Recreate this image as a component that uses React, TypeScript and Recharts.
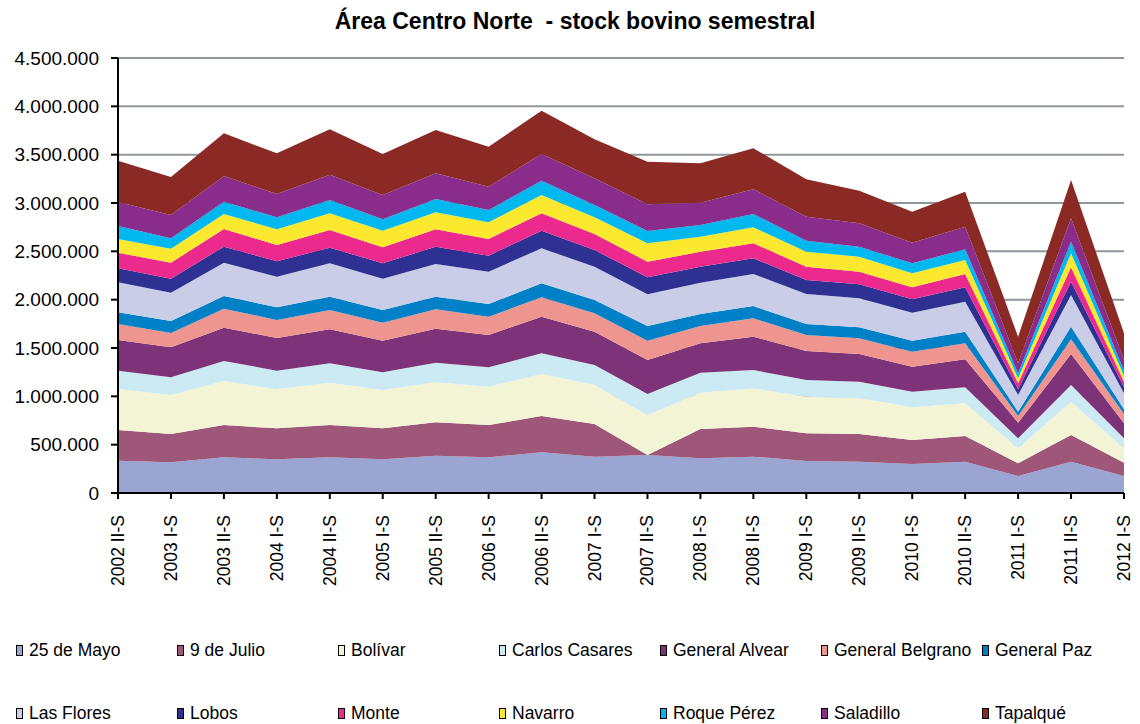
import { Area, AreaChart, CartesianGrid, XAxis, YAxis } from 'recharts';

const periods = [
  '2002 II-S', '2003 I-S', '2003 II-S', '2004 I-S', '2004 II-S', '2005 I-S', '2005 II-S',
  '2006 I-S', '2006 II-S', '2007 I-S', '2007 II-S', '2008 I-S', '2008 II-S', '2009 I-S',
  '2009 II-S', '2010 I-S', '2010 II-S', '2011 I-S', '2011 II-S', '2012 I-S'
];

// stock por partido, en miles de cabezas
const mayo25 = [334, 318, 369, 349, 369, 349, 386, 369, 421, 376, 393, 359, 376, 331, 324, 300, 324, 176, 324, 176];
const julio9 = [318, 292, 334, 320, 334, 320, 345, 334, 376, 338, 0, 303, 310, 286, 286, 248, 266, 131, 276, 137];
const bolivar = [424, 404, 456, 404, 438, 397, 414, 397, 434, 403, 414, 376, 397, 379, 370, 339, 338, 155, 345, 149];
const carlosCasares = [189, 183, 207, 192, 201, 183, 203, 200, 214, 207, 217, 207, 189, 173, 171, 161, 165, 104, 172, 104];
const generalAlvear = [318, 310, 344, 338, 351, 327, 352, 335, 379, 345, 352, 304, 345, 300, 287, 259, 290, 162, 321, 155];
const generalBelgrano = [165, 148, 197, 187, 200, 186, 200, 189, 200, 190, 200, 179, 190, 166, 162, 155, 166, 69, 152, 96];
const generalPaz = [121, 124, 131, 131, 138, 131, 131, 131, 145, 138, 152, 124, 127, 113, 114, 114, 120, 44, 130, 49];
const lasFlores = [311, 293, 344, 317, 345, 324, 338, 335, 362, 344, 327, 324, 332, 311, 300, 289, 310, 173, 328, 165];
const lobos = [144, 145, 166, 159, 162, 159, 179, 165, 183, 173, 176, 165, 162, 144, 145, 139, 149, 59, 138, 62];
const monte = [162, 165, 183, 169, 183, 166, 180, 173, 179, 165, 162, 155, 155, 138, 131, 124, 138, 62, 149, 58];
const navarro = [142, 145, 155, 162, 172, 172, 176, 172, 190, 173, 190, 155, 166, 155, 155, 145, 144, 51, 145, 59];
const roquePerez = [134, 108, 127, 124, 138, 117, 137, 128, 148, 127, 127, 121, 137, 114, 103, 103, 111, 52, 120, 55];
const saladillo = [248, 241, 266, 241, 262, 252, 266, 241, 276, 277, 276, 231, 256, 248, 242, 213, 234, 104, 242, 111];
const tapalque = [428, 393, 442, 421, 469, 424, 448, 414, 448, 403, 441, 408, 424, 387, 337, 321, 362, 275, 396, 276];

const yTicks = [0, 500000, 1000000, 1500000, 2000000, 2500000, 3000000, 3500000, 4000000, 4500000];

const series = [
  { key: 'mayo25', name: '25 de Mayo', values: mayo25, color: '#9ba5d1' },
  { key: 'julio9', name: '9 de Julio', values: julio9, color: '#9e5679' },
  { key: 'bolivar', name: 'Bolívar', values: bolivar, color: '#f3f3d6' },
  { key: 'carlosCasares', name: 'Carlos Casares', values: carlosCasares, color: '#cceaf4' },
  { key: 'generalAlvear', name: 'General Alvear', values: generalAlvear, color: '#7e3379' },
  { key: 'generalBelgrano', name: 'General Belgrano', values: generalBelgrano, color: '#ee9590' },
  { key: 'generalPaz', name: 'General Paz', values: generalPaz, color: '#0080c6' },
  { key: 'lasFlores', name: 'Las Flores', values: lasFlores, color: '#c9cde8' },
  { key: 'lobos', name: 'Lobos', values: lobos, color: '#2e3192' },
  { key: 'monte', name: 'Monte', values: monte, color: '#ec2a8e' },
  { key: 'navarro', name: 'Navarro', values: navarro, color: '#fce92f' },
  { key: 'roquePerez', name: 'Roque Pérez', values: roquePerez, color: '#00b8f0' },
  { key: 'saladillo', name: 'Saladillo', values: saladillo, color: '#8a2c8b' },
  { key: 'tapalque', name: 'Tapalqué', values: tapalque, color: '#8b2a25' }
];

const data = periods.map((period, i) => {
  const row: Record<string, string | number> = { period };
  series.forEach((s) => {
    row[s.key] = s.values[i] * 1000;
  });
  return row;
});

const font = '"Liberation Sans", Arial, sans-serif';

const fmt = (v: number) => String(v).replace(/\B(?=(\d{3})+(?!\d))/g, '.');

function PeriodTick(props: any) {
  const { x, y, payload } = props;
  return (
    <text
      x={x}
      y={y}
      transform={`rotate(-90, ${x}, ${y})`}
      textAnchor="end"
      dominantBaseline="central"
      fontSize={17.5}
      fontFamily={font}
      fill="#000"
    >
      {payload.value}
    </text>
  );
}

export default function App() {
  return (
    <div style={{ position: 'absolute', left: 0, top: 0, width: 1140, height: 724, background: '#fff', fontFamily: font }}>
      <div style={{ position: 'absolute', left: 0, top: 10, width: 1150, textAlign: 'center', fontSize: 23, lineHeight: '23px', fontWeight: 'bold' }}>
        Área Centro Norte&nbsp; - stock bovino semestral
      </div>

      <div style={{ position: 'absolute', left: 0, top: 0 }}>
        <AreaChart width={1140} height={610} data={data} margin={{ top: 58, right: 16, bottom: 0, left: 0 }}>
          <CartesianGrid vertical={false} stroke="#8f969c" strokeWidth={2} />
          <XAxis
            dataKey="period"
            scale="point"
            interval={0}
            height={117}
            stroke="#000"
            strokeWidth={2}
            tickSize={6}
            tickMargin={16}
            tick={<PeriodTick />}
          />
          <YAxis
            width={118}
            domain={[0, 4500000]}
            ticks={yTicks}
            tickFormatter={fmt}
            stroke="#000"
            strokeWidth={2}
            tickSize={7}
            tickMargin={12}
            tick={{ fontSize: 19, fontFamily: font, fill: '#000' }}
          />
          <YAxis yAxisId="border" orientation="right" width={0} tick={false} tickLine={false} stroke="#8f969c" strokeWidth={2} />
          {series.map((s) => (
            <Area
              key={s.key}
              dataKey={s.key}
              name={s.name}
              stackId="1"
              type="linear"
              fill={s.color}
              fillOpacity={1}
              stroke="none"
              isAnimationActive={false}
            />
          ))}
        </AreaChart>
      </div>

      {series.map((s, i) => {
        const col = i % 7;
        const row = Math.floor(i / 7);
        const left = 16 + col * 161;
        const cy = row === 0 ? 650 : 713;
        return (
          <div key={s.key} style={{ position: 'absolute', left, top: cy - 10, height: 20, display: 'flex', alignItems: 'center' }}>
            <div style={{ width: 5, height: 9, background: s.color, border: '1.5px solid #000', marginRight: 6 }} />
            <span style={{ fontSize: 17.5, lineHeight: '20px', whiteSpace: 'nowrap' }}>{s.name}</span>
          </div>
        );
      })}
    </div>
  );
}
